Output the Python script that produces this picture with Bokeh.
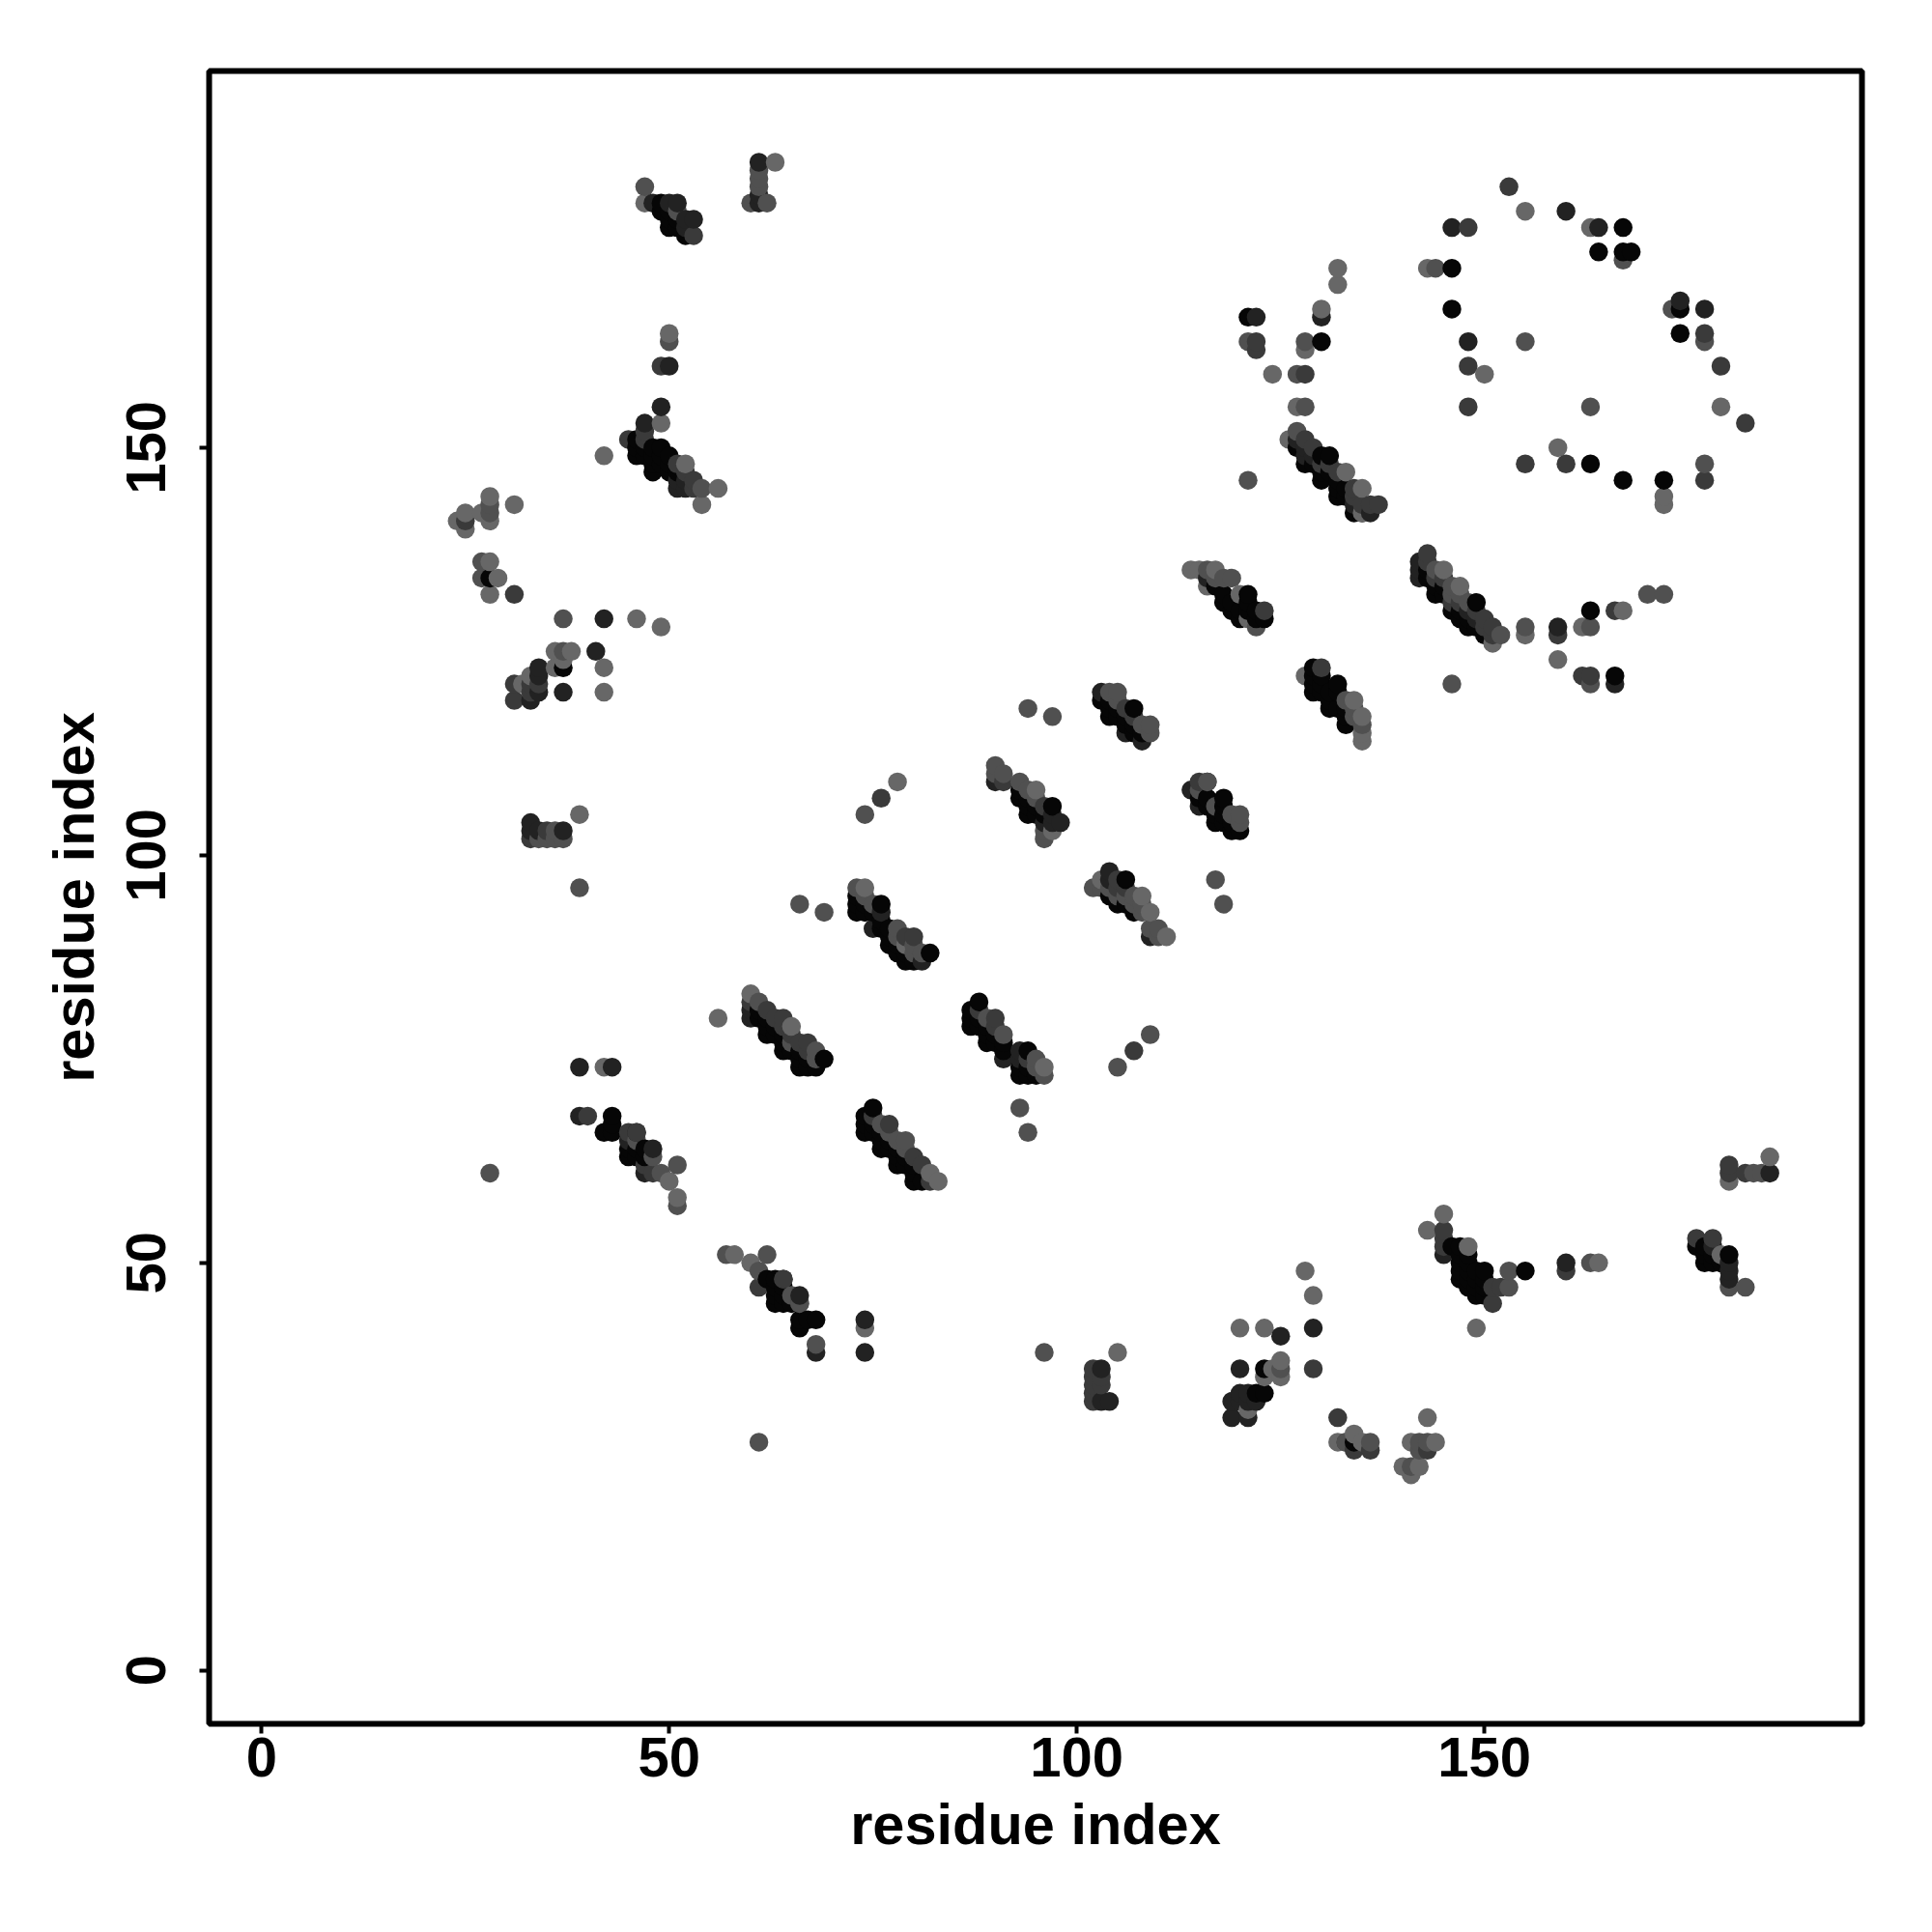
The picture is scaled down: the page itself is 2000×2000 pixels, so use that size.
from bokeh.plotting import figure
from bokeh.models import Range1d, FixedTicker, ColumnDataSource
from bokeh.embed import file_html
from bokeh.resources import INLINE

tick_values = [0, 50, 100, 150]
axis_title = "residue index"

# contacts (residue i, residue j), grouped by the shade they are drawn in
shade_light = [
 (47,180),(63,185),(50,164),(49,153),(42,149),(52,148),(56,145),(54,143),(28,144),(28,141),(27,142),(25,142),(24,141),(25,140),(31,143),
 (28,136),(29,134),(28,132),(46,129),(49,128),(36,125),(38,125),(36,123),(37,124),(42,123),(33,122),(32,121),(42,120),(39,105),(56,80),
 (42,74),(58,51),(60,50),(50,60),(51,58),(74,42),(74,96),(79,89),(65,79),(60,83),(82,61),(83,60),(96,74),(95,108),(97,103),(103,97),(108,95),(109,93),(111,90),
 (78,109),(114,135),(115,135),(117,135),(120,132),(121,129),(128,122),(134,119),(135,117),(135,115),(135,114),(145,135),(147,133),(151,126),(155,127),(159,124),(162,128),(167,130),
 (132,172),(132,170),(143,172),(130,167),(128,162),(150,159),(124,159),(127,155),(179,155),(159,150),(172,144),(172,143),(155,179),(163,177),(126,151),
 (105,39),(120,42),(123,42),(128,49),(129,46),(124,37),(125,38),(125,36),(123,36),(121,32),(132,28),(134,29),(135,28),(141,28),(144,28),(140,25),(142,25),(141,24),(143,31),
 (145,56),(143,54),(148,52),(149,42),(164,50),(179,51),(180,60),(185,63),(135,142),(135,145),(133,147),(116,133),
]
shade_mid = [
 (47,182),(51,179),(61,184),(61,183),(61,182),(60,180),(62,180),(50,163),(54,145),(28,143),(28,142),(27,136),(27,134),(37,129),(37,125),(34,102),(35,102),(36,103),(36,102),(37,102),(39,96),(28,61),
 (46,65),(48,63),(49,61),(51,62),(51,57),(57,51),(62,51),(61,49),(65,46),(66,45),(68,40),(61,28),(96,39),(66,94),(69,93),(74,105),(94,118),(97,117),
 (73,96),(74,95),(75,94),(78,91),(78,90),(80,89),(80,88),(81,88),(61,82),(65,77),(68,76),(68,75),(89,80),(91,78),(95,75),(95,74),(96,73),(93,69),(94,66),
 (76,67),(77,66),(78,65),(79,65),(79,64),(104,120),(105,120),(105,119),(108,116),(109,116),(109,115),(90,111),(90,110),(91,110),(93,109),(94,108),(95,107),(96,103),(96,102),
 (104,96),(102,96),(103,96),(105,95),(106,95),(107,95),(107,94),(108,94),(108,93),(109,91),(110,91),(110,90),(117,97),(118,94),(105,74),(109,78),
 (116,135),(118,134),(119,134),(117,134),(122,128),(133,119),(134,118),(134,117),(135,116),(116,109),(115,108),(120,105),(120,104),(119,105),(117,106),
 (144,135),(146,133),(146,132),(147,132),(148,131),(152,127),(155,128),(163,128),(146,121),(163,121),(170,132),(172,132),
 (121,163),(128,163),(127,159),(128,155),(155,163),(163,155),(177,148),(177,163),(173,167),(127,152),(121,146),(144,172),(167,173),
 (125,37),(136,28),(142,28),(143,28),(142,27),(141,25),(133,28),(153,49),(153,47),(163,50),(182,47),(183,61),(184,61),(180,47),
]
shade_dark = [
 (53,176),(49,160),(47,152),(47,151),(45,151),(51,148),(52,147),(53,146),(53,145),(25,141),(31,132),(31,121),(33,121),(34,121),(33,120),(31,119),(35,103),(33,102),
 (40,68),(76,107),(48,61),(45,66),(46,66),(47,62),(61,47),(64,48),(66,45),
 (79,90),(80,90),(60,82),(62,81),(63,80),(64,80),(64,79),(65,78),(66,77),(67,77),(67,76),(88,81),(90,80),(90,79),(94,75),(75,68),(77,67),(80,63),(81,62),(82,60),
 (106,118),(107,117),(91,109),(96,106),(105,97),(105,96),(106,96),(107,76),(115,109),(123,130),(130,123),(143,137),(143,136),(144,134),(145,134),(146,131),(147,131),(149,130),(150,129),(150,128),(151,128),(151,127),(163,122),(162,122),(166,130),(159,127),
 (128,159),(122,163),(122,162),(148,160),(148,155),(155,148),(160,148),(177,146),(182,153),(177,164),(179,160),(128,151),(129,150),(130,148),(131,148),(132,147),(134,145),(134,144),(135,143),(136,143),(137,143),(148,177),(153,182),
 (102,37),(102,36),(102,35),(102,34),(102,33),(103,36),(103,35),(129,37),(132,31),(133,28),(134,27),(136,27),(143,27),
 (145,54),(145,53),(145,52),(151,47),(151,45),(152,47),(160,49),(176,53),(178,53),(180,62),(182,61),(180,61),
]
shade_near = [
 (48,180),(50,180),(51,180),(52,178),(53,178),(52,177),(61,185),(61,181),(61,180),(50,160),(49,155),(47,153),(51,146),(51,145),(52,146),(52,145),
 (42,129),(41,125),(34,123),(34,122),(34,120),(33,119),(37,120),(33,104),(33,103),(34,103),(37,103),
 (39,74),(43,74),(39,68),(74,43),(74,39),(46,66),(48,64),(47,61),(45,65),(64,48),(66,46),(68,39),(125,41),(129,42),
 (76,93),(75,91),(81,87),(60,81),(60,80),(91,75),(93,76),(93,75),(106,115),(108,114),(90,109),(98,104),(97,105),(97,104),(96,104),(104,98),(104,97),(109,90),
 (103,120),(114,108),(115,106),(116,109),(116,134),(142,136),(142,135),(142,134),(148,130),(149,129),(159,128),(166,121),
 (130,166),(122,166),(148,163),(174,168),(177,167),(160,179),(146,177),(164,177),(127,151),(128,150),(128,149),(129,149),(134,143),(135,142),(136,142),
 (103,37),(103,33),(104,33),(120,37),(119,33),(120,34),(121,34),(120,33),(121,33),(122,33),(119,31),(121,31),(145,51),(160,50),(185,61),(178,52),(180,50),(180,49),(180,48),
]
shade_black = [
 (49,180),(49,179),(50,179),(50,178),(50,177),(51,178),(51,177),(52,176),(46,151),(46,150),(46,149),(47,150),(47,149),(48,150),(48,149),(48,148),(48,147),(49,150),(49,149),(49,148),(50,149),(50,148),(50,147),(51,147),
 (28,134),(37,123),(43,68),(43,67),(42,66),(43,66),(45,64),(45,63),(46,64),(46,63),(47,63),(47,64),(62,48),(63,48),(63,47),(63,46),(63,45),(64,47),(64,46),(64,45),(65,45),(66,43),(66,42),(67,43),(68,43),
 (73,95),(73,94),(73,93),(74,94),(74,93),(75,93),(76,94),(76,92),(76,91),(77,91),(77,90),(77,89),(78,89),(78,88),(79,88),(79,87),(80,87),(82,88),
 (61,81),(61,80),(62,80),(62,79),(62,78),(63,79),(63,78),(64,78),(64,77),(64,76),(65,76),(66,76),(66,75),(66,74),(67,75),(67,74),(68,74),(69,75),
 (88,82),(87,81),(87,80),(87,79),(88,80),(88,79),(89,79),(89,78),(89,77),(90,78),(90,77),(91,77),(91,76),(93,74),(93,73),(94,76),(94,74),(94,73),(95,73),
 (75,69),(74,68),(74,67),(74,66),(75,67),(75,66),(76,66),(76,65),(76,64),(77,65),(77,64),(78,64),(78,63),(78,62),(79,63),(79,62),(80,62),(80,61),(80,60),(81,60),
 (103,119),(104,119),(104,118),(104,117),(105,118),(105,117),(106,117),(106,116),(107,118),(107,116),(107,115),(108,115),
 (93,108),(93,107),(94,107),(94,106),(94,105),(95,106),(95,105),(96,105),(97,106),(106,97),(105,94),(106,94),(107,93),(104,95),
 (117,133),(118,132),(118,131),(119,131),(119,130),(120,130),(120,129),(121,132),(121,131),(121,130),(122,130),(122,129),(123,129),
 (129,123),(129,122),(129,121),(129,120),(130,122),(130,121),(130,120),(131,120),(131,119),(131,118),(132,121),(132,120),(132,118),(133,118),(133,117),(133,116),
 (115,107),(116,107),(116,106),(117,105),(117,104),(118,107),(118,106),(118,105),(118,104),(119,104),(119,103),(120,103),
 (143,135),(143,134),(144,133),(144,132),(145,133),(145,132),(146,130),(147,129),(147,130),(148,129),(148,128),(149,131),(149,128),(150,127),
 (127,150),(128,148),(129,148),(130,149),(130,147),(130,146),(131,149),(131,147),(132,146),(132,145),(132,144),(133,145),(133,144),(134,142),
 (146,172),(146,167),(164,174),(167,174),(168,174),(121,166),(130,163),(174,167),(174,164),(163,148),(167,146),(172,146),(167,177),(163,130),(166,122),
 (123,37),(122,34),(123,34),(134,28),(146,52),(147,52),(147,51),(147,48),(147,50),(147,49),(148,51),(148,50),(148,49),(148,48),(148,47),(149,49),(150,49),(149,48),(149,47),(149,46),(150,48),(150,47),(150,46),(155,49),
 (176,52),(177,52),(177,51),(177,50),(178,51),(178,50),(179,50),(180,51),
]
shades = {"#676767": shade_light, "#505050": shade_mid, "#3a3a3a": shade_dark, "#222222": shade_near, "#060606": shade_black}

rows = sorted((x, y, c) for c, pts in shades.items() for x, y in pts)
src = ColumnDataSource(dict(x=[r[0] for r in rows], y=[r[1] for r in rows], c=[r[2] for r in rows]))

p = figure(width=1984, height=1984, output_backend="svg", toolbar_location=None,
           x_range=Range1d(-6.43, 196.3), y_range=Range1d(-6.55, 196.2),
           frame_width=1711, frame_height=1711, min_border_left=216, min_border_top=73,
           min_border_right=49, min_border_bottom=200)
p.scatter("x", "y", source=src, size=19.5, fill_color="c", line_color=None)

p.grid.visible = False
p.outline_line_color = "black"
p.outline_line_width = 6
p.background_fill_color = "white"
for ax in (p.xaxis[0], p.yaxis[0]):
    ax.ticker = FixedTicker(ticks=tick_values)
    ax.axis_label = axis_title
    ax.axis_line_color = None
    ax.minor_tick_line_color = None
    ax.major_tick_in = 0
    ax.major_tick_out = 10
    ax.major_tick_line_width = 4
    ax.major_tick_line_color = "black"
    ax.major_label_text_font = "Liberation Sans"
    ax.major_label_text_font_style = "bold"
    ax.major_label_text_font_size = "58px"
    ax.major_label_text_color = "black"
    ax.axis_label_text_font = "Liberation Sans"
    ax.axis_label_text_font_style = "bold"
    ax.axis_label_text_font_size = "59.5px"
    ax.axis_label_text_color = "black"
p.xaxis[0].major_label_standoff = 4
p.xaxis[0].axis_label_standoff = 13
p.yaxis[0].major_label_orientation = "vertical"
p.yaxis[0].major_label_standoff = 35
p.yaxis[0].axis_label_standoff = 19

open("out.html", "w").write(file_html(p, INLINE))
